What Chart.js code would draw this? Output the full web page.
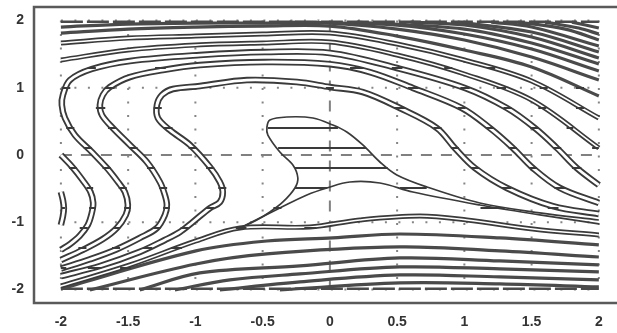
<!DOCTYPE html>
<html><head><meta charset="utf-8">
<script src="https://cdn.jsdelivr.net/npm/chart.js@4.4.1/dist/chart.umd.min.js"></script>
<style>html,body{margin:0;padding:0;background:#fff}#wrap{width:617px;height:333px}</style>
</head><body><div id="wrap"><canvas id="c" width="617" height="333"></canvas></div>
<script>
// ---- axis ticks ----
const xTicks = [-2,-1.5,-1,-0.5,0,0.5,1,1.5,2];
const xTickLabels = ['-2','-1.5','-1','-0.5','0','0.5','1','1.5','2'];
const yTicks = [-2,-1,0,1,2];
const yTickLabels = ['-2','-1','0','1','2'];
const xGrid = [-2,-1.5,-1,-0.5,0.5,1,1.5,2];
const yGrid = [-2,-1,1,2];

// ---- double-line bands (centre lines) ----
const bandA = [[-2.0,-0.55],[-1.985,-0.67],[-1.978,-0.79],[-1.985,-0.91],[-2.0,-1.04]];
const bandB = [[-2.0,0.0],[-1.91,-0.19],[-1.84,-0.37],[-1.78,-0.55],[-1.76,-0.71],[-1.77,-0.86],[-1.80,-1.04],[-1.86,-1.20],[-1.93,-1.32],[-2.0,-1.41]];
const bandC = [[-2.0,-1.56],[-1.836,-1.41],[-1.688,-1.25],[-1.584,-1.085],[-1.517,-0.89],[-1.502,-0.743],[-1.524,-0.55],[-1.576,-0.40],[-1.658,-0.193],[-1.770,0.045],[-1.896,0.297],[-1.970,0.55],[-1.993,0.743],[-1.985,0.892],[-1.933,1.114],[-1.770,1.278],[-1.487,1.397],[-0.967,1.486],[-0.483,1.530],[0,1.516],[0.498,1.293],[1.004,0.996],[1.316,0.698],[1.524,0.401],[1.688,0.104],[1.836,-0.193],[2.0,-0.446]];
const bandD = [[-2.0,-1.69],[-1.784,-1.55],[-1.584,-1.40],[-1.413,-1.233],[-1.286,-1.085],[-1.227,-0.892],[-1.212,-0.743],[-1.227,-0.594],[-1.264,-0.401],[-1.361,-0.104],[-1.487,0.149],[-1.621,0.416],[-1.695,0.594],[-1.710,0.743],[-1.688,0.892],[-1.636,1.010],[-1.487,1.159],[-1.242,1.263],[-0.967,1.337],[-0.483,1.382],[0,1.35],[0.297,1.233],[0.617,0.996],[0.981,0.698],[1.19,0.401],[1.361,0.104],[1.509,-0.193],[1.710,-0.49],[2.0,-0.713]];
const bandE = [[-2.0,-1.80],[-1.71,-1.65],[-1.413,-1.44],[-1.227,-1.263],[-1.115,-1.144],[-1.019,-0.996],[-0.892,-0.788],[-0.818,-0.70],[-0.796,-0.55],[-0.818,-0.401],[-0.892,-0.178],[-1.041,0.149],[-1.19,0.371],[-1.279,0.55],[-1.286,0.743],[-1.249,0.892],[-1.167,0.981],[-0.967,1.025],[-0.617,1.114],[-0.245,1.085],[0,1.010],[0.245,0.936],[0.52,0.698],[0.796,0.401],[0.929,0.104],[1.078,-0.193],[1.316,-0.49],[1.658,-0.76],[2.0,-0.877]];
const bandX = [[-2,1.412],[-1.5,1.560],[-1,1.634],[-0.5,1.664],[0,1.679],[0.5,1.486],[1,1.204],[1.5,0.817],[2,0.104]];
const bandY = [[-2,1.664],[-1.5,1.738],[-1,1.768],[-0.5,1.798],[0,1.813],[0.5,1.649],[1,1.412],[1.5,1.100],[2,0.550]];
const bandB1 = [[-2.0,-1.946],[-1.487,-1.635],[-0.996,-1.278],[-0.669,-1.085],[-0.149,-1.070],[0.223,-0.966],[0.669,-0.907],[1.019,-0.966],[1.509,-1.100],[2.0,-1.189]];

// ---- single thick lines (top and bottom families) ----
const lineZ = [[-2,1.813],[-1.5,1.872],[-1,1.902],[-0.5,1.917],[0,1.917],[0.5,1.768],[1,1.560],[1.5,1.308],[2,0.877]];
const lineW = [[-2,1.902],[-1.5,1.946],[-1,1.961],[-0.5,1.961],[0,1.961],[0.5,1.872],[1,1.709],[1.5,1.456],[2,1.114]];
const lineN1 = [[-0.3,1.976],[0.5,1.932],[1.0,1.798],[1.5,1.575],[2.0,1.248]];
const lineN2 = [[0.2,1.976],[1.0,1.872],[1.5,1.664],[2.0,1.352]];
const lineN3 = [[0.6,1.976],[1.0,1.932],[1.5,1.753],[2.0,1.441]];
const lineN4 = [[0.95,1.976],[1.5,1.828],[2.0,1.530]];
const lineN5 = [[1.2,1.976],[1.5,1.902],[2.0,1.620]];
const lineN6 = [[1.4,1.976],[1.75,1.872],[2.0,1.709]];
const lineN7 = [[1.6,1.976],[1.85,1.887],[2.0,1.798]];
const lineN8 = [[1.8,1.976],[2.0,1.887]];
const lineB2 = [[-2.0,-1.99],[-0.996,-1.426],[-0.468,-1.278],[0.022,-1.233],[0.520,-1.174],[1.264,-1.233],[2.0,-1.337]];
const lineB3 = [[-1.784,-2.006],[-0.996,-1.620],[-0.468,-1.471],[0.520,-1.367],[1.264,-1.426],[2.0,-1.516]];
const lineB4 = [[-1.413,-2.006],[-0.967,-1.753],[-0.223,-1.649],[0.520,-1.530],[1.264,-1.575],[2.0,-1.634]];
const lineB5 = [[-1.152,-2.006],[-0.743,-1.857],[-0.223,-1.768],[0.520,-1.664],[1.264,-1.694],[2.0,-1.738]];
const lineB6 = [[-0.818,-2.006],[-0.223,-1.887],[0.520,-1.783],[1.264,-1.813],[2.0,-1.857]];
const lineB7 = [[-0.372,-2.006],[0.520,-1.902],[1.264,-1.917],[2.0,-1.961]];
const edgeTop = [[-2,1.98],[2,1.98]];
const edgeBottom = [[-2,-1.99],[2,-1.99]];

// ---- central hatched region ----
const coreUpper = [[-0.669,-1.085],[-0.55,-0.975],[-0.446,-0.847],[-0.349,-0.698],[-0.260,-0.490],[-0.238,-0.342],[-0.275,-0.149],[-0.372,0.045],[-0.461,0.297],[-0.468,0.416],[-0.446,0.520],[-0.320,0.565],[-0.126,0.550],[0.022,0.446],[0.126,0.342],[0.245,0.149],[0.372,-0.104],[0.498,-0.297],[0.721,-0.475],[1.115,-0.713],[1.561,-0.86],[2.0,-0.966]];
const coreLower = [[-0.669,-1.085],[-0.372,-0.788],[-0.171,-0.594],[-0.022,-0.490],[0.149,-0.401],[0.372,-0.416],[0.617,-0.550],[1.115,-0.743],[1.561,-0.89],[2.0,-1.025]];
// hatch rows: [y, xStart, xEnd]
const coreHatch = [[0.401,-0.461,0.06],[0.104,-0.385,0.27],[-0.193,-0.26,0.43],[-0.49,-0.26,-0.02],[-0.49,0.52,0.72]];
const bandHatch = [
 [1.293,-1.80,-1.74],[1.293,-1.30,-1.22],[1.293,0.15,0.25],[1.293,0.46,0.54],[1.293,0.85,0.91],[1.293,1.17,1.23],
 [0.996,-1.99,-1.93],[0.996,-1.67,-1.60],[0.996,-0.03,0.03],[0.996,0.58,0.66],[0.996,0.97,1.04],[0.996,1.24,1.31],[0.996,1.56,1.62],[0.996,1.83,1.89],
 [0.698,-1.74,-1.67],[0.698,-1.31,-1.25],[0.698,0.48,0.56],[0.698,0.95,1.01],[0.698,1.29,1.35],[0.698,1.55,1.61],[0.698,1.83,1.89],
 [0.401,-1.96,-1.90],[0.401,-1.65,-1.59],[0.401,-1.24,-1.17],[0.401,0.77,0.83],[0.401,1.16,1.22],[0.401,1.49,1.55],[0.401,1.76,1.81],
 [0.104,-1.83,-1.77],[0.104,-1.49,-1.43],[0.104,-1.05,-0.99],[0.104,0.90,0.96],[0.104,1.33,1.39],[0.104,1.66,1.72],[0.104,1.95,2.0],
 [-0.193,-1.94,-1.88],[-0.193,-1.69,-1.63],[-0.193,-1.36,-1.30],[-0.193,-0.92,-0.86],[-0.193,1.05,1.11],[-0.193,1.48,1.54],[-0.193,1.80,1.87],
 [-0.49,-1.81,-1.76],[-0.49,-1.57,-1.51],[-0.49,-1.27,-1.21],[-0.49,-0.83,-0.77],[-0.49,1.28,1.35],[-0.49,1.67,1.75],
 [-0.788,-2.0,-1.97],[-0.788,-1.79,-1.74],[-0.788,-1.53,-1.48],[-0.788,-1.24,-1.19],[-0.788,-0.92,-0.86],[-0.788,-0.42,-0.36],[-0.788,1.12,1.30],[-0.788,1.62,1.70],
 [-1.085,-1.86,-1.80],[-1.085,-1.61,-1.56],[-1.085,-1.31,-1.26],[-1.085,-1.11,-1.05],[-1.085,-0.70,-0.62],[-1.085,-0.19,-0.10],
 [-1.382,-1.87,-1.81],[-1.382,-1.62,-1.56],[-1.382,-1.39,-1.32],[-1.382,-1.18,-1.10],
 [-1.679,-2.0,-1.96],[-1.679,-1.80,-1.70],[-1.679,-1.56,-1.48]
];

// ---- build datasets ----
const pts = a => a.map(p => ({x:p[0], y:p[1]}));
const segs = rows => { const out=[]; rows.forEach(r => { out.push({x:r[1],y:r[0]},{x:r[2],y:r[0]},{x:null,y:null}); }); return out; };
const DARK = '#3a3a3a';
const datasets = [];
function band(arr, w, inner){
  datasets.push({data:pts(arr), borderColor:DARK, borderWidth:w, order:5});
  datasets.push({data:pts(arr), borderColor:'#ffffff', borderWidth:inner, order:4});
}
function single(arr, w, col){
  datasets.push({data:pts(arr), borderColor:col||'#4a4a4a', borderWidth:w, order:6});
}
[bandA,bandB,bandC,bandD,bandE].forEach(b => band(b, 6.5, 2.8));
[bandX,bandY,bandB1].forEach(b => band(b, 5, 1.6));
[lineZ,lineW,lineN1,lineN2,lineN3,lineN4,lineN5,lineN6,lineN7,lineN8].forEach(l => single(l, 3.2));
[lineB2,lineB3,lineB4,lineB5,lineB6,lineB7].forEach(l => single(l, 3.2));
datasets.push({data:pts(edgeTop), borderColor:'#4a4a4a', borderWidth:2.5, borderDash:[22,4], order:6, tension:0});
datasets.push({data:pts(edgeBottom), borderColor:'#4a4a4a', borderWidth:2.5, borderDash:[22,4], order:6, tension:0});
datasets.push({data:pts(coreUpper), borderColor:DARK, borderWidth:1.7, order:2});
datasets.push({data:pts(coreLower), borderColor:DARK, borderWidth:1.7, order:2});
datasets.push({data:segs(coreHatch), borderColor:DARK, borderWidth:2, order:1, tension:0, spanGaps:false});
datasets.push({data:segs(bandHatch), borderColor:DARK, borderWidth:2, order:1, tension:0, spanGaps:false});

// grid + frame plugin
const gridPlugin = {
  id:'gridFrame',
  beforeDatasetsDraw(chart){
    const {ctx, scales:{x, y}} = chart;
    ctx.save();
    ctx.lineWidth = 2; ctx.strokeStyle = '#858585';
    ctx.setLineDash([2,11.5]);
    xGrid.forEach(v => { const px = x.getPixelForValue(v); ctx.beginPath(); ctx.moveTo(px, y.getPixelForValue(2)); ctx.lineTo(px, y.getPixelForValue(-2)); ctx.stroke(); });
    yGrid.forEach(v => { const py = y.getPixelForValue(v); ctx.beginPath(); ctx.moveTo(x.getPixelForValue(-2), py); ctx.lineTo(x.getPixelForValue(2), py); ctx.stroke(); });
    ctx.setLineDash([11,9]); ctx.strokeStyle = '#808080';
    const x0 = x.getPixelForValue(0), y0 = y.getPixelForValue(0);
    ctx.beginPath(); ctx.moveTo(x0, y.getPixelForValue(2)); ctx.lineTo(x0, y.getPixelForValue(-2)); ctx.stroke();
    ctx.beginPath(); ctx.moveTo(x.getPixelForValue(-2), y0); ctx.lineTo(x.getPixelForValue(2), y0); ctx.stroke();
    ctx.restore();
  },
  afterDatasetsDraw(chart){
    const {ctx, chartArea:ca} = chart;
    ctx.save();
    ctx.strokeStyle = '#5a5a5a'; ctx.lineWidth = 2.5;
    ctx.strokeRect(ca.left, ca.top, ca.right - ca.left + 20, ca.bottom - ca.top);
    ctx.restore();
  }
};

const noPad = s => { s.paddingTop = 0; s.paddingBottom = 0; s.paddingLeft = 0; s.paddingRight = 0; };
const tickFont = {family:'"Liberation Sans", Arial, sans-serif', size:14, weight:'bold'};
new Chart(document.getElementById('c'), {
  type:'scatter',
  data:{datasets},
  options:{
    responsive:false, devicePixelRatio:1, animation:false,
    layout:{padding:{top:7, left:0, right:0, bottom:0}},
    elements:{point:{radius:0, hoverRadius:0}, line:{tension:0.35, fill:false, borderCapStyle:'butt', borderJoinStyle:'round'}},
    datasets:{scatter:{showLine:true, pointRadius:0}},
    plugins:{legend:{display:false}, tooltip:{enabled:false}},
    scales:{
      x:{type:'linear', min:-2.2, max:2.135,
         afterBuildTicks:s => { s.ticks = xTicks.map(v => ({value:v})); },
         afterFit:s => { s.height = 30; noPad(s); },
         grid:{display:false, drawTicks:false}, border:{display:false},
         ticks:{callback:v => xTickLabels[xTicks.indexOf(v)], font:tickFont, color:'#333', padding:11, maxRotation:0, autoSkip:false}},
      y:{type:'linear', min:-2.2, max:2.2,
         afterBuildTicks:s => { s.ticks = yTicks.map(v => ({value:v})); },
         afterFit:s => { s.width = 34; noPad(s); },
         grid:{display:false, drawTicks:false}, border:{display:false},
         ticks:{callback:v => yTickLabels[yTicks.indexOf(v)], font:tickFont, color:'#333', padding:10, autoSkip:false}}
    }
  },
  plugins:[gridPlugin]
});
</script>
</body></html>
